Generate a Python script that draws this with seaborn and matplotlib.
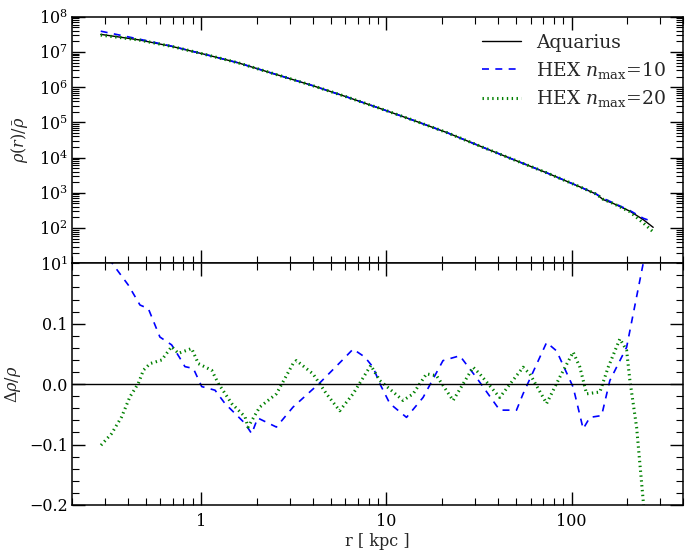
import numpy as np
import pandas as pd
import matplotlib
matplotlib.use("Agg")
import matplotlib.pyplot as plt
import seaborn as sns
from matplotlib.ticker import MultipleLocator, LogLocator, NullFormatter
from matplotlib.lines import Line2D

# ---------------- data ----------------
r_top = [0.286, 0.457, 0.692, 1.045, 1.585, 2.40, 4.01, 6.08, 9.20, 13.9,
         21.1, 31.9, 48.3, 73.3, 111, 136.5, 148, 168, 206.5, 244, 276]
rho_aquarius = [3.16e7, 2.22e7, 1.44e7, 8.55e6, 4.90e6, 2.51e6, 1.10e6, 5.33e5,
                2.51e5, 1.16e5, 5.20e4, 2.14e4, 8.9e3, 3.72e3, 1.48e3, 912, 646,
                501, 302, 174, 105]
rho_hex10 = [3.89e7, 2.34e7, 1.46e7, 8.55e6, 4.90e6, 2.51e6, 1.10e6, 5.33e5,
             2.51e5, 1.16e5, 5.20e4, 2.14e4, 8.9e3, 3.72e3, 1.48e3, 912, 700,
             520, 315, 190, 151]
rho_hex20 = [3.02e7, 2.20e7, 1.44e7, 8.55e6, 4.90e6, 2.51e6, 1.10e6, 5.33e5,
             2.51e5, 1.16e5, 5.20e4, 2.14e4, 8.9e3, 3.72e3, 1.48e3, 912, 660,
             500, 290, 140, 78]

r_hex10 = [0.287, 0.341, 0.403, 0.466, 0.517, 0.597, 0.691, 0.766, 0.815, 0.905,
           1.004, 1.185, 1.341, 1.721, 1.870, 2.015, 2.543, 3.127, 4.36, 5.83,
           6.60, 7.63, 8.47, 9.20, 10.42, 12.83, 15.77, 20.2, 24.9, 30.6,
           40.9, 50.4, 54.7, 73.3, 83.0, 102, 115.5, 125.6, 145.3, 161,
           198.3, 243.8, 258.5]
drho_hex10 = [0.226, 0.194, 0.164, 0.131, 0.125, 0.078, 0.065, 0.043, 0.029, 0.026,
              -0.004, -0.010, -0.032, -0.065, -0.082, -0.056, -0.071, -0.038, 0.002, 0.041,
              0.058, 0.045, 0.028, 0.001, -0.032, -0.055, -0.022, 0.039, 0.047, 0.011,
              -0.043, -0.043, -0.016, 0.069, 0.055, -0.005, -0.074, -0.055, -0.052, 0.006,
              0.061, 0.200, 0.238]

r_hex20 = [0.287, 0.327, 0.371, 0.411, 0.456, 0.486, 0.528, 0.610, 0.691, 0.751,
           0.886, 0.963, 1.137, 1.236, 1.458, 1.721, 1.786, 2.066, 2.543, 3.127,
           3.263, 4.01, 4.74, 5.59, 6.60, 8.23, 9.20, 12.30, 13.93, 16.45,
           18.64, 22.9, 29.4, 31.9, 40.9, 54.7, 59.5, 73.3, 86.5, 102,
           110.9, 120.5, 142.2, 157.7, 182.4, 198.3, 206.6, 224.5, 243.8, 258.5]
drho_hex20 = [-0.101, -0.082, -0.054, -0.021, 0.001, 0.023, 0.034, 0.040, 0.062, 0.051,
              0.059, 0.034, 0.023, 0.001, -0.032, -0.054, -0.071, -0.038, -0.016, 0.034,
              0.039, 0.017, -0.016, -0.044, -0.016, 0.031, 0.006, -0.027, -0.016, 0.017,
              0.014, -0.027, 0.028, 0.017, -0.022, 0.028, 0.017, -0.032, 0.012, 0.053,
              0.028, -0.016, -0.013, 0.028, 0.075, 0.056, 0.006, -0.071, -0.193, -0.28]

labels = ["Aquarius", r"HEX $n_{\rm max}$=10", r"HEX $n_{\rm max}$=20"]
xticks = [1, 10, 100]
xticklabels = ["1", "10", "100"]
lower_yticks = [-0.2, -0.1, 0.0, 0.1]

# ---------------- style ----------------
sns.set_style("ticks")
plt.rcParams["font.family"] = ["DejaVu Serif"]
plt.rcParams["mathtext.fontset"] = "dejavuserif"
plt.rcParams["lines.scale_dashes"] = False
plt.rcParams["axes.linewidth"] = 1.1
plt.rcParams["axes.edgecolor"] = "black"

fig = plt.figure(figsize=(6.85, 5.51), dpi=100)
ax1 = fig.add_axes([0.1051, 0.5221, 0.892, 0.4475])
ax2 = fig.add_axes([0.1051, 0.0835, 0.892, 0.4386])

dash10 = (0, (5.0, 4.6))
dot20 = (0, (1.0, 2.5))

df_top = pd.DataFrame({"r": r_top, "aq": rho_aquarius, "h10": rho_hex10, "h20": rho_hex20})
df10 = pd.DataFrame({"r": r_hex10, "d": drho_hex10})
df20 = pd.DataFrame({"r": r_hex20, "d": drho_hex20})

for ax in (ax1, ax2):
    ax.set_xscale("log")

sns.lineplot(data=df_top, x="r", y="aq", ax=ax1, color="black", lw=1.0,
             estimator=None, sort=False)
sns.lineplot(data=df_top, x="r", y="h10", ax=ax1, color="blue", lw=1.2,
             linestyle=dash10, estimator=None, sort=False)
sns.lineplot(data=df_top, x="r", y="h20", ax=ax1, color="green", lw=2.2,
             linestyle=dot20, estimator=None, sort=False)
ax1.set_yscale("log")

sns.lineplot(data=df10, x="r", y="d", ax=ax2, color="blue", lw=1.2,
             linestyle=dash10, estimator=None, sort=False)
sns.lineplot(data=df20, x="r", y="d", ax=ax2, color="green", lw=2.2,
             linestyle=dot20, estimator=None, sort=False)
ax2.axhline(0.0, color="black", lw=1.0)

xlim = (0.2, 400)
ax1.set_xlim(*xlim)
ax2.set_xlim(*xlim)
ax1.set_ylim(10, 1e8)
ax2.set_ylim(-0.2, 0.2)

ax1.yaxis.set_major_locator(LogLocator(base=10, numticks=20))
ax1.yaxis.set_minor_locator(LogLocator(base=10, subs=np.arange(2, 10), numticks=20))
ax1.yaxis.set_minor_formatter(NullFormatter())
ax2.set_yticks(lower_yticks)
ax2.yaxis.set_minor_locator(MultipleLocator(0.02))

for ax in (ax1, ax2):
    ax.set_xticks(xticks)
    ax.xaxis.set_minor_locator(LogLocator(base=10, subs=np.arange(2, 10), numticks=20))
    ax.xaxis.set_minor_formatter(NullFormatter())
    ax.tick_params(which="both", direction="in", top=True, right=True,
                   bottom=True, left=True, colors="black")
    ax.tick_params(which="major", length=9.5, width=1.0, labelsize=11.5)
    ax.tick_params(which="minor", length=5, width=0.8)
    ax.tick_params(axis="y", pad=3)
    ax.tick_params(axis="x", pad=6)
    for s in ax.spines.values():
        s.set_visible(True)
        s.set_linewidth(1.1)

ax1.set_xticklabels([])
ax1.set_xlabel("")
ax2.set_xticklabels(xticklabels)

ax1.set_ylabel(r"$\rho(r)/\bar{\rho}$", fontsize=11.5)
ax2.set_ylabel(r"$\Delta\rho/\rho$", fontsize=11.5)
ax2.set_xlabel("r [ kpc ]", fontsize=11.5, labelpad=2)
ax1.yaxis.set_label_coords(-0.069, 0.5)
ax2.yaxis.set_label_coords(-0.08, 0.5)

handles = [Line2D([], [], color="black", lw=1.0),
           Line2D([], [], color="blue", lw=1.2, linestyle=dash10),
           Line2D([], [], color="green", lw=2.2, linestyle=dot20)]
ax1.legend(handles, labels, loc="upper right", frameon=False, fontsize=13.5,
           handlelength=2.1, labelspacing=0.42)

fig.savefig("out.png", dpi=100)
